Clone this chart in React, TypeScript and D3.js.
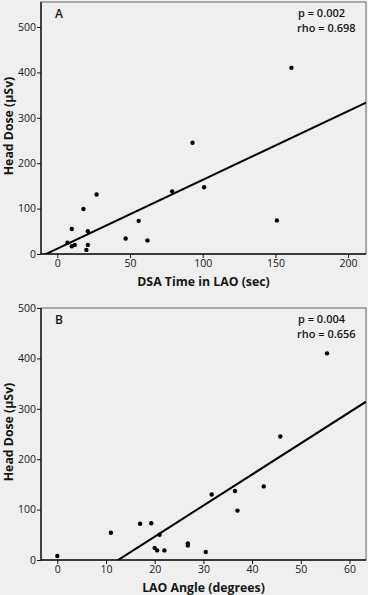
import { useEffect, useRef } from "react";
import * as d3 from "d3";

// panel A: DSA time in LAO (sec) vs head dose (µSv)
const dsaTime = [93, 161, 27, 18, 79, 101, 10, 21, 7, 10, 12, 21, 20, 47, 56, 62, 151];
const dsaDose = [245, 410, 131, 99, 138, 147, 55, 50, 25, 17, 20, 20, 9, 34, 73, 30, 74];
const dsaFit = [11.7, 1.516]; // intercept, slope
const dsaTicks = [0, 50, 100, 150, 200];

// panel B: LAO angle (degrees) vs head dose (µSv)
const laoAngle = [0, 11, 17, 19.3, 21, 20, 20.5, 22, 26.8, 26.8, 30.5, 31.7, 36.5, 37, 42.4, 45.8, 55.4];
const laoDose = [8, 54, 72, 73, 50, 24, 19, 19, 33, 29, 16, 130, 137, 98, 146, 245, 410];
const laoFit = [-77.1, 6.17];
const laoTicks = [0, 10, 20, 30, 40, 50, 60];

const doseTicks = [0, 100, 200, 300, 400, 500];

const W = 368;
const H = 595;
const FONT = "'Open Sans', sans-serif";
const BG = "#efefef";
const INK = "#161616";

function drawPanel(svg, o) {
  const { top, bottom, left, right } = o;
  const x = d3.scaleLinear().domain(o.xDomain).range([left, right]);
  const y = d3.scaleLinear().domain(o.yDomain).range([bottom, top]);
  const g = svg.append("g").attr("class", "panel-" + o.name);

  g.append("rect")
    .attr("x", left).attr("y", top)
    .attr("width", right - left).attr("height", bottom - top)
    .attr("fill", BG).attr("stroke", "#666").attr("stroke-width", 1);

  const xAxis = g.append("g")
    .attr("transform", `translate(0,${bottom})`)
    .call(d3.axisBottom(x).tickValues(o.xTicks).tickSize(4).tickSizeOuter(0).tickPadding(2));
  const yAxis = g.append("g")
    .attr("transform", `translate(${left},0)`)
    .call(d3.axisLeft(y).tickValues(doseTicks).tickSize(4).tickSizeOuter(0).tickPadding(1));
  [xAxis, yAxis].forEach((a) => {
    a.select(".domain").remove();
    a.selectAll("line").attr("stroke", INK);
    a.selectAll("text").attr("font-family", FONT).attr("font-size", 10.5).attr("fill", INK);
  });

  // axis lines along the box edges
  g.append("line").attr("x1", left).attr("x2", right).attr("y1", bottom).attr("y2", bottom)
    .attr("stroke", INK).attr("stroke-width", 1.4);
  g.append("line").attr("x1", left).attr("x2", left).attr("y1", top).attr("y2", bottom)
    .attr("stroke", INK).attr("stroke-width", 1.4);

  // fit line, clipped to plot box
  const clipId = "clip" + o.name;
  svg.append("clipPath").attr("id", clipId)
    .append("rect").attr("x", left).attr("y", top)
    .attr("width", right - left).attr("height", bottom - top);
  const [b0, b1] = o.fit;
  g.append("line")
    .attr("clip-path", `url(#${clipId})`)
    .attr("x1", x(o.xDomain[0])).attr("y1", y(b0 + b1 * o.xDomain[0]))
    .attr("x2", x(o.xDomain[1])).attr("y2", y(b0 + b1 * o.xDomain[1]))
    .attr("stroke", "#000").attr("stroke-width", 2);

  g.selectAll("circle.pt").data(o.xs).enter().append("circle")
    .attr("class", "pt")
    .attr("cx", (d) => x(d))
    .attr("cy", (d, i) => y(o.ys[i]))
    .attr("r", 2.2).attr("fill", "#000");

  g.append("text").attr("x", left + 14).attr("y", top + 16)
    .attr("font-size", 12).attr("font-weight", 600).attr("fill", INK).text(o.name);
  g.append("text").attr("x", 298).attr("y", top + 15)
    .attr("font-size", 11).attr("font-weight", 600).attr("fill", INK).text(o.p);
  g.append("text").attr("x", 297).attr("y", top + 30)
    .attr("font-size", 11).attr("font-weight", 600).attr("fill", INK).text(o.rho);

  g.append("text")
    .attr("x", (left + right) / 2).attr("y", bottom + 32)
    .attr("text-anchor", "middle")
    .attr("font-size", 12.3).attr("font-weight", "bold").attr("fill", INK)
    .text(o.xLabel);
  g.append("text")
    .attr("transform", `translate(13,${(top + bottom) / 2 - 2}) rotate(-90)`)
    .attr("text-anchor", "middle")
    .attr("font-size", 12.3).attr("font-weight", "bold").attr("fill", INK)
    .text("Head Dose (µSv)");
}

export default function App() {
  const ref = useRef(null);

  useEffect(() => {
    const svg = d3.select(ref.current);
    svg.selectAll("*").remove();
    svg.append("rect").attr("width", W).attr("height", H).attr("fill", BG);

    drawPanel(svg, {
      name: "A",
      top: 2, bottom: 254, left: 41, right: 366,
      xDomain: [-11.2, 212.3], yDomain: [0, 555],
      xTicks: dsaTicks, xs: dsaTime, ys: dsaDose, fit: dsaFit,
      p: "p = 0.002", rho: "rho = 0.698",
      xLabel: "DSA Time in LAO (sec)",
    });
    drawPanel(svg, {
      name: "B",
      top: 308, bottom: 560, left: 41, right: 366,
      xDomain: [-3.35, 63.4], yDomain: [0, 500],
      xTicks: laoTicks, xs: laoAngle, ys: laoDose, fit: laoFit,
      p: "p = 0.004", rho: "rho = 0.656",
      xLabel: "LAO Angle (degrees)",
    });
  }, []);

  return (
    <svg
      ref={ref}
      width={W}
      height={H}
      style={{ position: "fixed", left: 0, top: 0, fontFamily: FONT }}
    />
  );
}
